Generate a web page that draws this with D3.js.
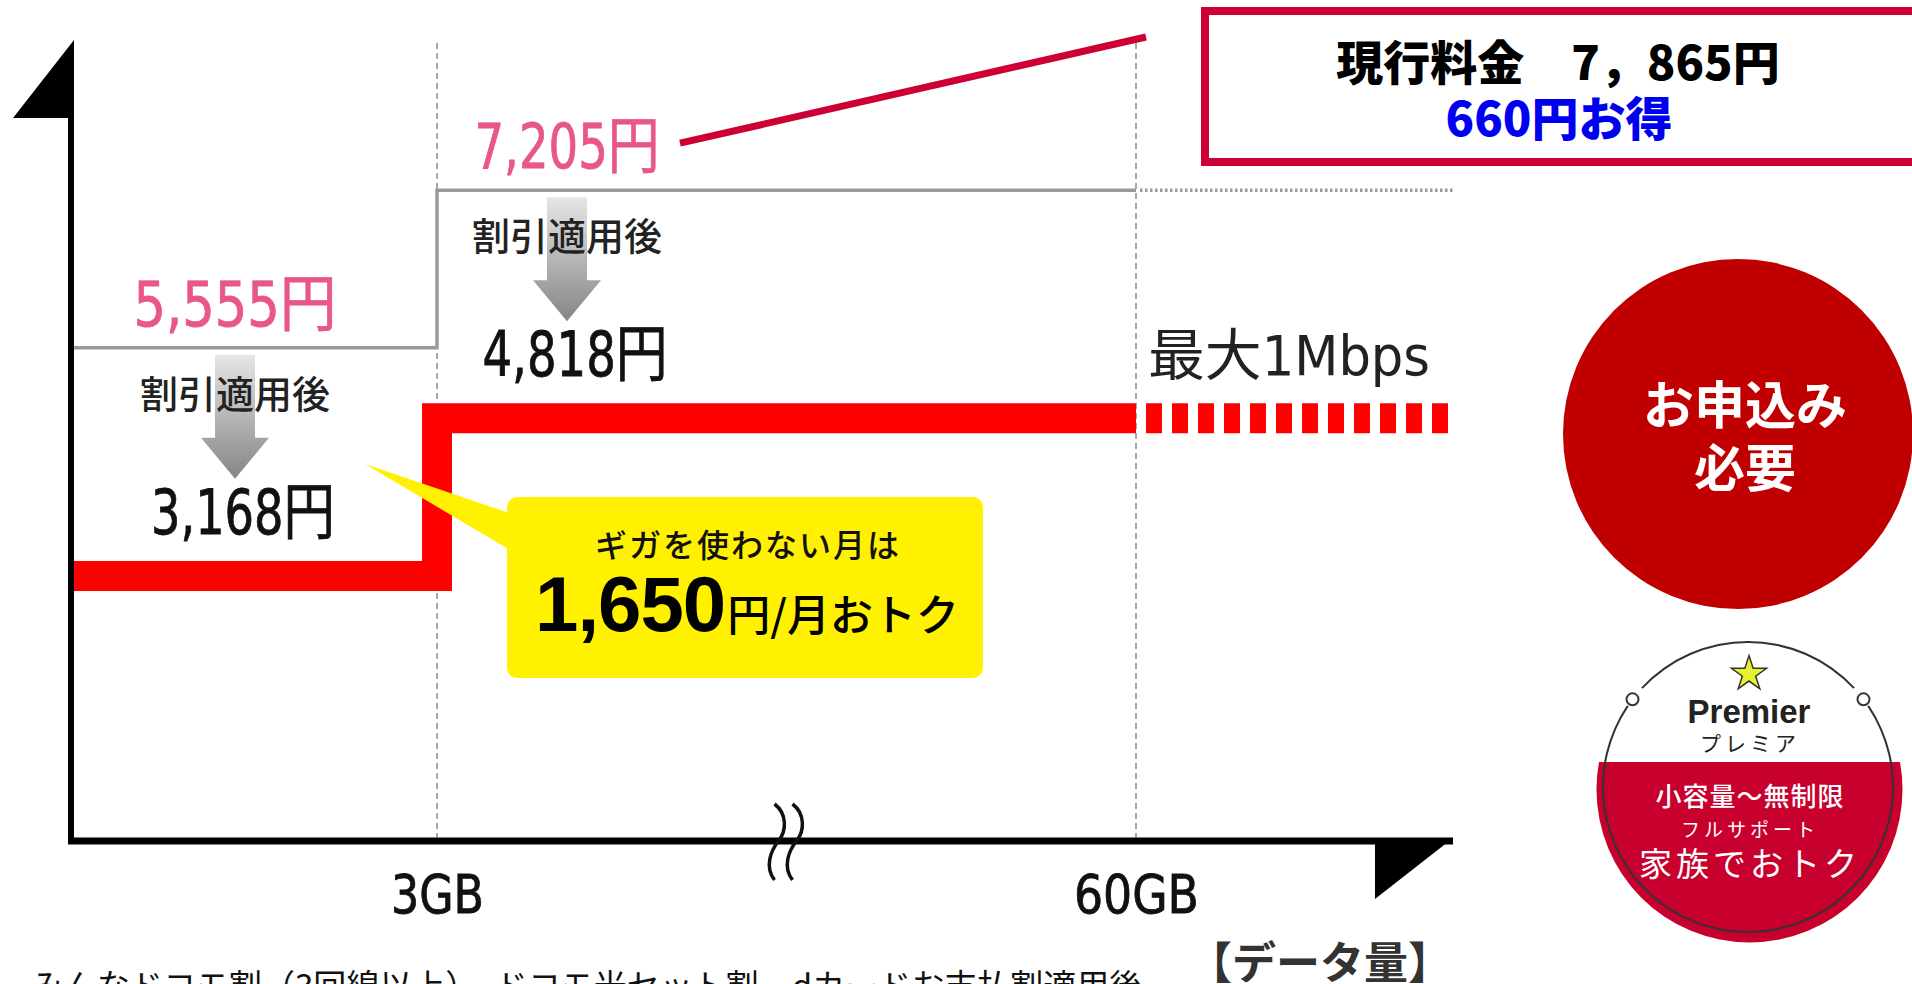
<!DOCTYPE html>
<html>
<head>
<meta charset="utf-8">
<script src="https://cdn.jsdelivr.net/npm/d3@7"></script>
<style>
  body { margin: 0; background: #fff; overflow: hidden; }
  svg text { font-family: "Noto Sans CJK JP", sans-serif; }
</style>
</head>
<body>
<svg id="chart" width="1912" height="984"></svg>
<script>
// data
var dataPoints = [0, 3, 60];            // GB
var axisEnd = 100;
var tickValues = [3, 60];
var tickLabels = ["3GB", "60GB"];
var listPrices = [5555, 7205];          // 円
var discountPrices = [3168, 4818];      // 割引適用後
var currentPrice = 7865;
var currentSaving = 660;
var monthlySaving = 1650;
var speedCap = "最大1Mbps";
var badgeLines = ["小容量〜無制限", "フルサポート", "家族でおトク"];
var footnote = "みんなドコモ割（3回線以上）、ドコモ光セット割、dカードお支払割適用後";

var svg = d3.select("#chart");
var width = 1912, height = 984;

var narrow = "'DejaVu Sans Condensed','Liberation Sans Narrow','DejaVu Sans','Noto Sans CJK JP',sans-serif";
var pink = "#e8578c";
var crimson = "#cc0033";

var x = d3.scaleLinear()
  .domain([0, 3, 60, axisEnd])
  .range([71, 437, 1136, 1453]);

var y = d3.scaleLinear()
  .domain([3000, 7500])
  .range([592, 162]);

var axisY = 841;
var labelCx = [x(0) + 164, x(3) + 130];
// label widths as drawn in the picture (condensed face)
var listW = [203, 185], discW = [184, 185], tickW = [93, 125];
var fmt = d3.format(",");

var defs = svg.append("defs");
var grad = defs.append("linearGradient")
  .attr("id", "arrowGrad")
  .attr("x1", 0).attr("y1", 0).attr("x2", 0).attr("y2", 1);
grad.append("stop").attr("offset", "0%").attr("stop-color", "#e6e6e6");
grad.append("stop").attr("offset", "100%").attr("stop-color", "#858585");

// dashed guides
svg.selectAll("line.guide")
  .data(tickValues)
  .enter().append("line")
  .attr("class", "guide")
  .attr("x1", d => x(d)).attr("x2", d => x(d))
  .attr("y1", 43).attr("y2", axisY)
  .attr("stroke", "#8a8a8a")
  .attr("stroke-width", 1.5)
  .attr("stroke-dasharray", "6,4");

// list price step line
var step = d3.line()
  .x(d => x(d.x))
  .y(d => y(d.y))
  .curve(d3.curveStepAfter);

var listData = listPrices.map((p, i) => ({x: dataPoints[i], y: p}));
listData.push({x: dataPoints[2], y: listPrices[1]});

svg.append("path")
  .datum(listData)
  .attr("fill", "none")
  .attr("stroke", "#999")
  .attr("stroke-width", 3.5)
  .attr("d", step);

svg.append("line")
  .attr("x1", x(60) + 4).attr("x2", x(axisEnd))
  .attr("y1", y(listPrices[1])).attr("y2", y(listPrices[1]))
  .attr("stroke", "#999")
  .attr("stroke-width", 3.5)
  .attr("stroke-dasharray", "2.5,2.5");

// discount step line
var discData = discountPrices.map((p, i) => ({x: dataPoints[i], y: p}));
discData.push({x: dataPoints[2], y: discountPrices[1]});

svg.append("path")
  .datum(discData)
  .attr("fill", "none")
  .attr("stroke", "#ff0000")
  .attr("stroke-width", 30)
  .attr("stroke-linejoin", "miter")
  .attr("d", step);

svg.append("line")
  .attr("x1", x(60)).attr("x2", x(axisEnd))
  .attr("y1", y(discountPrices[1])).attr("y2", y(discountPrices[1]))
  .attr("stroke", "#ff0000")
  .attr("stroke-width", 30)
  .attr("stroke-dasharray", "16,10")
  .attr("stroke-dashoffset", 16);

// list price labels
svg.selectAll("text.list")
  .data(listPrices)
  .enter().append("text")
  .attr("class", "list")
  .attr("x", (d, i) => labelCx[i])
  .attr("y", d => y(d) - 22)
  .attr("text-anchor", "middle")
  .attr("textLength", (d, i) => listW[i])
  .attr("lengthAdjust", "spacingAndGlyphs")
  .style("font-family", narrow)
  .style("font-size", "62px")
  .attr("fill", pink)
  .attr("stroke", pink)
  .attr("stroke-width", 0.8)
  .text(d => fmt(d) + "円");

// 割引適用後 + arrows + discount labels
listPrices.forEach(function(p, i) {
  var g = y(p);
  var cx = labelCx[i];
  var top = g + 7, tip = g + 131, head = tip - 41;
  svg.append("path")
    .attr("d", d3.line()([[cx - 20, top], [cx + 20, top], [cx + 20, head], [cx + 34, head],
                          [cx, tip], [cx - 34, head], [cx - 20, head]]) + "Z")
    .attr("fill", "url(#arrowGrad)");

  svg.append("text")
    .attr("x", cx)
    .attr("y", g + 60)
    .attr("text-anchor", "middle")
    .style("font-size", "38px")
    .style("font-weight", 500)
    .attr("fill", "#222")
    .text("割引適用後");

  svg.append("text")
    .attr("x", cx + 8)
    .attr("y", tip + 55)
    .attr("text-anchor", "middle")
    .attr("textLength", discW[i])
    .attr("lengthAdjust", "spacingAndGlyphs")
    .style("font-family", narrow)
    .style("font-size", "62px")
    .attr("fill", "#111")
    .attr("stroke", "#111")
    .attr("stroke-width", 0.8)
    .text(fmt(discountPrices[i]) + "円");
});

// speed cap label
svg.append("text")
  .attr("x", x(60) + 12)
  .attr("y", y(discountPrices[1]) - 43)
  .attr("textLength", 282)
  .attr("lengthAdjust", "spacingAndGlyphs")
  .style("font-family", narrow)
  .style("font-size", "56px")
  .attr("fill", "#222")
  .text(speedCap);

// yellow bubble
svg.append("path")
  .attr("d", d3.line()([[365, 464], [515, 515], [515, 553]]) + "Z")
  .attr("fill", "#fff100");
svg.append("rect")
  .attr("x", 507).attr("y", 497)
  .attr("width", 476).attr("height", 181)
  .attr("rx", 10)
  .attr("fill", "#fff100");

svg.append("text")
  .attr("x", 748).attr("y", 557)
  .attr("text-anchor", "middle")
  .style("font-size", "32px")
  .style("font-weight", 500)
  .style("letter-spacing", "2px")
  .attr("fill", "#111")
  .text("ギガを使わない月は");

var big = svg.append("text")
  .attr("x", 747).attr("y", 631)
  .attr("text-anchor", "middle")
  .attr("fill", "#000");
big.append("tspan")
  .style("font-family", "'Liberation Sans', Arial, sans-serif")
  .style("font-weight", 700)
  .style("font-size", "78px")
  .style("letter-spacing", "-1px")
  .text(fmt(monthlySaving));
big.append("tspan")
  .attr("dx", 2)
  .style("font-size", "43px")
  .style("font-weight", 500)
  .text("円/月おトク");

// connector to current price
svg.append("line")
  .attr("x1", labelCx[1] + 113).attr("y1", y(listPrices[1]) - 47)
  .attr("x2", x(60) + 10).attr("y2", 37)
  .attr("stroke", crimson)
  .attr("stroke-width", 7);

svg.append("rect")
  .attr("x", 1205).attr("y", 11)
  .attr("width", 760).attr("height", 151)
  .attr("fill", "#fff")
  .attr("stroke", crimson)
  .attr("stroke-width", 8);

svg.append("text")
  .attr("x", 1558).attr("y", 80)
  .attr("text-anchor", "middle")
  .style("font-size", "47px")
  .style("font-weight", 900)
  .attr("fill", "#000")
  .text("現行料金　" + fmt(currentPrice).replace(",", "，") + "円");

svg.append("text")
  .attr("x", 1559).attr("y", 136)
  .attr("text-anchor", "middle")
  .style("font-size", "47px")
  .style("font-weight", 900)
  .attr("fill", "#0000f0")
  .text(currentSaving + "円お得");

// axes
var xAxis = d3.axisBottom(x)
  .tickValues(tickValues)
  .tickFormat((d, i) => tickLabels[i])
  .tickSize(0);

var gx = svg.append("g")
  .attr("transform", "translate(0," + axisY + ")")
  .call(xAxis);
gx.select(".domain").remove();
gx.selectAll("text")
  .attr("y", 72).attr("dy", 0)
  .attr("textLength", (d, i) => tickW[i])
  .attr("lengthAdjust", "spacingAndGlyphs")
  .style("font-family", narrow)
  .style("font-size", "54px")
  .attr("fill", "#111")
  .attr("stroke", "#111")
  .attr("stroke-width", 0.8);

svg.append("line")
  .attr("x1", x(0) - 3).attr("x2", x(axisEnd))
  .attr("y1", axisY).attr("y2", axisY)
  .attr("stroke", "#000").attr("stroke-width", 7);
svg.append("line")
  .attr("x1", x(0)).attr("x2", x(0))
  .attr("y1", 117).attr("y2", axisY + 3)
  .attr("stroke", "#000").attr("stroke-width", 6);

svg.append("path")
  .attr("d", d3.line()([[x(0) + 3, 40], [x(0) + 3, 118], [x(0) - 58, 118]]) + "Z")
  .attr("fill", "#000");
svg.append("path")
  .attr("d", d3.line()([[x(axisEnd) - 78, axisY - 3], [x(axisEnd), axisY - 3], [x(axisEnd) - 78, axisY + 58]]) + "Z")
  .attr("fill", "#000");

// axis break marks
var bx = (x(3) + x(60)) / 2 - 8;
[0, 18].forEach(function(off) {
  var cx = bx + off;
  svg.append("path")
    .attr("d", "M" + (cx - 4) + "," + (axisY - 37) +
               " C" + (cx + 9) + "," + (axisY - 27) + " " + (cx + 8) + "," + (axisY - 10) + " " + cx + "," + axisY +
               " S" + (cx - 14) + "," + (axisY + 26) + " " + (cx - 4) + "," + (axisY + 39))
    .attr("fill", "none")
    .attr("stroke", "#111")
    .attr("stroke-width", 3.5);
});

svg.append("text")
  .attr("x", 1320).attr("y", 979)
  .attr("text-anchor", "middle")
  .style("font-size", "44px")
  .style("font-weight", 700)
  .attr("fill", "#333")
  .text("【データ量】");

// footnote (cut by the bottom edge)
svg.append("text")
  .attr("x", 31).attr("y", 998)
  .style("font-size", "33px")
  .attr("fill", "#111")
  .text(footnote);

// red circle
svg.append("circle")
  .attr("cx", 1738).attr("cy", 434).attr("r", 175)
  .attr("fill", "#c00000");
svg.append("text")
  .attr("x", 1745).attr("y", 424)
  .attr("text-anchor", "middle")
  .style("font-size", "51px").style("font-weight", 700)
  .attr("fill", "#fff")
  .text("お申込み");
svg.append("text")
  .attr("x", 1745).attr("y", 487)
  .attr("text-anchor", "middle")
  .style("font-size", "51px").style("font-weight", 700)
  .attr("fill", "#fff")
  .text("必要");

// Premier badge
var bcx = 1748, bcy = 787, br = 145;
defs.append("clipPath").attr("id", "badgeClip")
  .append("rect").attr("x", 1580).attr("y", 762).attr("width", 340).attr("height", 200);
svg.append("circle")
  .attr("cx", bcx + 1.5).attr("cy", bcy + 2.5).attr("r", 153)
  .attr("fill", "#c8002e")
  .attr("clip-path", "url(#badgeClip)");

var ring = d3.arc().innerRadius(br - 1).outerRadius(br + 1);
var rad = Math.PI / 180;
[[-47, 47], [56, 304]].forEach(function(a) {
  svg.append("path")
    .attr("transform", "translate(" + bcx + "," + bcy + ")")
    .attr("d", ring({startAngle: a[0] * rad, endAngle: a[1] * rad}))
    .attr("fill", "#333");
});
[-52.8, 52.8].forEach(function(a) {
  svg.append("circle")
    .attr("cx", bcx + br * Math.sin(a * rad))
    .attr("cy", bcy - br * Math.cos(a * rad))
    .attr("r", 6)
    .attr("fill", "#fff")
    .attr("stroke", "#333")
    .attr("stroke-width", 2);
});

svg.append("path")
  .attr("transform", "translate(" + (bcx + 1) + "," + (bcy - 113) + ")")
  .attr("d", d3.symbol().type(d3.symbolStar).size(380)())
  .attr("fill", "#e6f02c")
  .attr("stroke", "#333")
  .attr("stroke-width", 1.5);

svg.append("text")
  .attr("x", bcx + 1).attr("y", 723)
  .attr("text-anchor", "middle")
  .style("font-family", "'Liberation Sans', Arial, sans-serif")
  .style("font-size", "33px").style("font-weight", 700)
  .attr("fill", "#222")
  .text("Premier");
svg.append("text")
  .attr("x", bcx + 2).attr("y", 751)
  .attr("text-anchor", "middle")
  .style("font-size", "21px")
  .style("letter-spacing", "4px")
  .attr("fill", "#222")
  .text("プレミア");

var badgeSizes = [26, 19, 33];
var badgeY = [806, 837, 876];
var badgeSpacing = [1, 4, 4];
badgeLines.forEach(function(t, i) {
  svg.append("text")
    .attr("x", bcx + 2).attr("y", badgeY[i])
    .attr("text-anchor", "middle")
    .style("font-size", badgeSizes[i] + "px")
    .style("font-weight", i === 0 ? 500 : 400)
    .style("letter-spacing", badgeSpacing[i] + "px")
    .attr("fill", "#fff")
    .text(t);
});
</script>
</body>
</html>
